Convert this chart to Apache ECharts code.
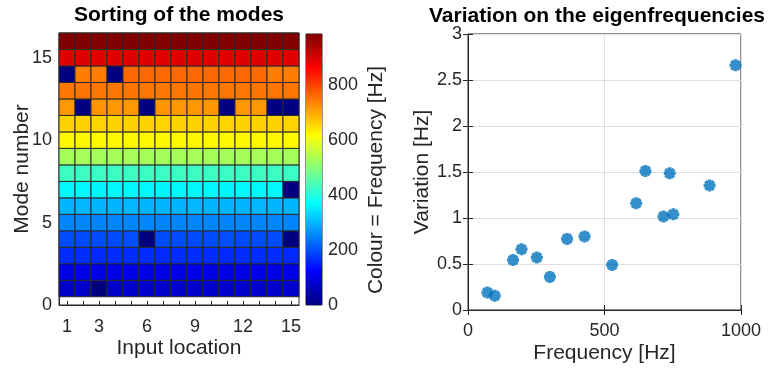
<!DOCTYPE html>
<html>
<head>
<meta charset="utf-8">
<script src="https://cdn.jsdelivr.net/npm/echarts@6/dist/echarts.min.js"></script>
<style>
  html, body { margin: 0; padding: 0; background: #fff; }
  #chart { width: 769px; height: 369px; }
</style>
</head>
<body>
<div id="chart"></div>
<script>
// Input locations (columns) and the identified eigenfrequency [Hz] of each mode
// at each location; 0 marks a mode that was not found at that location.
const locations = [1, 2, 3, 4, 5, 6, 7, 8, 9, 10, 11, 12, 13, 14, 15];
const locationLabels = [1, 3, 6, 9, 12, 15];
const modeTicks = [0, 5, 10, 15];
const colourTicks = [0, 200, 400, 600, 800];

const mode1  = [71, 70, 0, 72, 71, 70, 71, 72, 71, 70, 71, 72, 70, 71, 72];
const mode2  = [98, 99, 97, 98, 99, 98, 97, 98, 99, 98, 97, 98, 99, 98, 97];
const mode3  = [165, 166, 164, 165, 166, 165, 164, 165, 166, 165, 164, 165, 166, 165, 164];
const mode4  = [196, 194, 197, 195, 198, 0, 196, 197, 195, 196, 198, 194, 196, 197, 0];
const mode5  = [252, 253, 251, 252, 253, 252, 251, 252, 253, 252, 251, 252, 253, 252, 251];
const mode6  = [300, 301, 299, 300, 301, 300, 299, 300, 301, 300, 299, 300, 301, 300, 299];
const mode7  = [363, 364, 362, 363, 364, 363, 362, 363, 364, 363, 362, 363, 364, 363, 0];
const mode8  = [427, 428, 426, 427, 428, 427, 426, 427, 428, 427, 426, 427, 428, 427, 426];
const mode9  = [528, 529, 527, 528, 529, 528, 527, 528, 529, 528, 527, 528, 529, 528, 527];
const mode10 = [622, 623, 621, 622, 623, 622, 621, 622, 623, 622, 621, 622, 623, 622, 621];
const mode11 = [658, 659, 657, 658, 659, 658, 657, 658, 659, 658, 657, 658, 659, 658, 657];
const mode12 = [716, 0, 717, 715, 716, 0, 717, 715, 716, 717, 0, 716, 715, 0, 0];
const mode13 = [748, 749, 747, 748, 749, 748, 747, 748, 749, 748, 747, 748, 749, 748, 747];
const mode14 = [0, 742, 741, 0, 762, 763, 761, 762, 763, 762, 761, 762, 761, 742, 741];
const mode15 = [893, 894, 892, 893, 894, 893, 892, 893, 894, 893, 892, 893, 894, 893, 892];
const mode16 = [984, 985, 983, 984, 985, 984, 983, 984, 985, 984, 983, 984, 985, 984, 983];
const modeRows = [mode1, mode2, mode3, mode4, mode5, mode6, mode7, mode8,
                  mode9, mode10, mode11, mode12, mode13, mode14, mode15, mode16];

// Mean eigenfrequency of each mode and its variation over the input locations
const freqMean = [71, 98, 165, 196, 252, 300, 363, 427, 528, 616, 650, 716, 739, 752, 885, 980];
const freqVariation = [0.19, 0.156, 0.544, 0.66, 0.57, 0.36, 0.773, 0.80, 0.49, 1.16, 1.51, 1.016, 1.487, 1.04, 1.353, 2.66];

// Jet colour map sampled at nine evenly spaced stops
const jet = ['#000080', '#0000ff', '#0080ff', '#00ffff', '#80ff80',
             '#ffff00', '#ff8000', '#ff0000', '#800000'];

const heatData = [];
modeRows.forEach(function (row, i) {
  row.forEach(function (f, j) { heatData.push([locations[j], i + 1, f]); });
});
const allFreq = [].concat.apply([], modeRows);
const maxFreq = Math.max.apply(null, allFreq);

const scatterData = freqMean.map(function (f, i) { return [f, freqVariation[i]]; });

// Asterisk marker: four bars rotated by 45 degrees, unioned with nonzero fill
function asteriskPath(r, w) {
  let d = '';
  [0, 45, 90, 135].forEach(function (deg) {
    const a = deg * Math.PI / 180;
    const dx = Math.cos(a), dy = Math.sin(a), px = -dy, py = dx;
    const pts = [
      [r * dx + w * px, r * dy + w * py],
      [r * dx - w * px, r * dy - w * py],
      [-r * dx - w * px, -r * dy - w * py],
      [-r * dx + w * px, -r * dy + w * py]
    ];
    d += 'M' + pts.map(function (p) { return (p[0] + 20).toFixed(2) + ' ' + (p[1] + 20).toFixed(2); }).join(' L') + ' Z ';
  });
  return 'path://' + d;
}

const FONT = '"Liberation Sans", Arial, Helvetica, sans-serif';
const INK = '#262626';
const tickFont = { fontSize: 18, color: INK, fontFamily: FONT };
const nameFont = { fontSize: 21, color: INK, fontFamily: FONT };
const plainNumber = function (v) { return String(v); };

const chart = echarts.init(document.getElementById('chart'), null, { renderer: 'canvas' });

const gradStops = jet.map(function (c, i) { return { offset: i / (jet.length - 1), color: c }; });

chart.setOption({
  animation: false,
  backgroundColor: '#ffffff',
  textStyle: { fontFamily: FONT },
  graphic: [
    { type: 'text', x: 179, y: 15, style: { text: 'Sorting of the modes', align: 'center', verticalAlign: 'middle',
        font: 'bold 21px ' + FONT, fill: '#000' } },
    { type: 'text', x: 597, y: 16, style: { text: 'Variation on the eigenfrequencies', align: 'center', verticalAlign: 'middle',
        font: 'bold 21px ' + FONT, fill: '#000' } },
    { type: 'text', x: 376, y: 180, rotation: Math.PI / 2,
      style: { text: 'Colour = Frequency [Hz]', align: 'center', verticalAlign: 'middle',
        font: '21px ' + FONT, fill: INK } }
  ],
  grid: [
    { left: 59, top: 33, width: 240, height: 272, show: true, borderColor: INK, borderWidth: 1, backgroundColor: '#fff' },
    { left: 306, top: 34, width: 16, height: 271, show: true, borderColor: INK, borderWidth: 1 },
    { left: 468, top: 34, width: 273, height: 276, show: true, borderColor: INK, borderWidth: 1, backgroundColor: '#fff' }
  ],
  xAxis: [
    { gridIndex: 0, type: 'value', min: 0.5, max: 15.5,
      axisLine: { lineStyle: { color: INK } },
      axisTick: { inside: true, length: 4, customValues: locations, lineStyle: { color: INK } },
      axisLabel: Object.assign({ customValues: locationLabels, margin: 13 }, tickFont),
      splitLine: { show: false },
      name: 'Input location', nameLocation: 'middle', nameGap: 33, nameMoveOverlap: false, nameTextStyle: nameFont },
    { gridIndex: 1, type: 'category', data: [''], show: false },
    { gridIndex: 2, type: 'value', min: 0, max: 1000, interval: 500,
      axisLine: { lineStyle: { color: INK } },
      axisTick: { inside: true, length: 5, lineStyle: { color: INK } },
      axisLabel: Object.assign({ margin: 12, formatter: plainNumber }, tickFont),
      splitLine: { show: true, lineStyle: { color: '#dfdfdf', width: 1 } },
      name: 'Frequency [Hz]', nameLocation: 'middle', nameGap: 33, nameMoveOverlap: false, nameTextStyle: nameFont },
    { gridIndex: 2, type: 'value', position: 'top', min: 0, max: 1000, interval: 500,
      axisLine: { lineStyle: { color: INK } },
      axisTick: { inside: true, length: 5, lineStyle: { color: INK } },
      axisLabel: { show: false }, splitLine: { show: false } }
  ],
  yAxis: [
    { gridIndex: 0, type: 'value', min: 0, max: 16.5,
      axisLine: { lineStyle: { color: INK } },
      axisTick: { inside: true, length: 4, customValues: modeTicks, lineStyle: { color: INK } },
      axisLabel: Object.assign({ customValues: modeTicks, margin: 7 }, tickFont),
      splitLine: { show: false },
      name: 'Mode number', nameLocation: 'middle', nameGap: 26, nameMoveOverlap: false, nameTextStyle: nameFont },
    { gridIndex: 1, type: 'value', position: 'right', min: 0, max: maxFreq, z: 5,
      axisLine: { lineStyle: { color: INK } },
      axisTick: { inside: true, length: 3, customValues: colourTicks, lineStyle: { color: INK } },
      axisLabel: Object.assign({ customValues: colourTicks, margin: 6 }, tickFont),
      splitLine: { show: false } },
    { gridIndex: 2, type: 'value', min: 0, max: 3, interval: 0.5,
      axisLine: { lineStyle: { color: INK } },
      axisTick: { inside: true, length: 5, lineStyle: { color: INK } },
      axisLabel: Object.assign({ margin: 6 }, tickFont),
      splitLine: { show: true, lineStyle: { color: '#dfdfdf', width: 1 } },
      name: 'Variation [Hz]', nameLocation: 'middle', nameGap: 35, nameMoveOverlap: false, nameTextStyle: nameFont },
    { gridIndex: 2, type: 'value', position: 'right', min: 0, max: 3, interval: 0.5,
      axisLine: { lineStyle: { color: INK } },
      axisTick: { inside: true, length: 5, lineStyle: { color: INK } },
      axisLabel: { show: false }, splitLine: { show: false } }
  ],
  visualMap: {
    type: 'continuous', show: false, seriesIndex: 0, dimension: 2,
    min: 0, max: maxFreq, inRange: { color: jet }
  },
  series: [
    {
      type: 'custom', xAxisIndex: 0, yAxisIndex: 0, data: heatData,
      encode: { x: 0, y: 1 },
      renderItem: function (params, api) {
        const x = api.value(0), y = api.value(1);
        const p0 = api.coord([x - 0.5, y + 0.5]);
        const p1 = api.coord([x + 0.5, y - 0.5]);
        return {
          type: 'rect',
          shape: { x: p0[0], y: p0[1], width: p1[0] - p0[0], height: p1[1] - p0[1] },
          style: { fill: api.visual('color'), stroke: '#2a2a2a', lineWidth: 1 }
        };
      }
    },
    {
      type: 'bar', xAxisIndex: 1, yAxisIndex: 1, data: [maxFreq],
      barWidth: '100%', silent: true,
      itemStyle: { color: new echarts.graphic.LinearGradient(0, 1, 0, 0, gradStops) }
    },
    {
      type: 'scatter', xAxisIndex: 2, yAxisIndex: 2, data: scatterData,
      symbol: asteriskPath(10, 3), symbolSize: 12,
      itemStyle: { color: '#0072BD' }
    }
  ]
});
</script>
</body>
</html>
